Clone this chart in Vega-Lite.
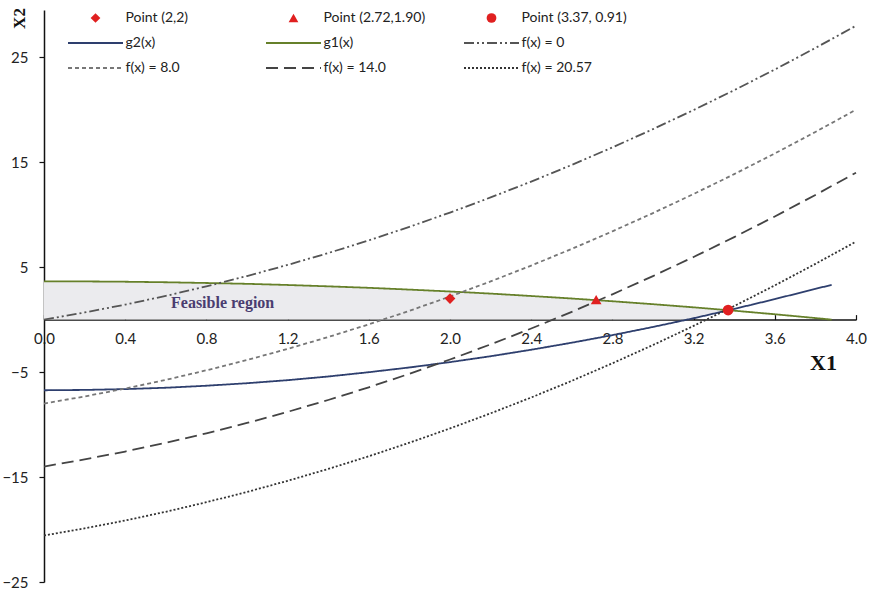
{
  "$schema": "https://vega.github.io/schema/vega-lite/v6.json",
  "width": 812,
  "height": 572,
  "autosize": "none",
  "padding": {"left": 44, "top": 10, "right": 15, "bottom": 11},
  "background": "white",
  "config": {
    "view": {"stroke": null},
    "legend": {
      "labelFont": "Lato",
      "labelFontSize": 14,
      "labelColor": "#222",
      "columns": 3,
      "columnPadding": 31,
      "rowPadding": 11,
      "gridAlign": "all",
      "labelOffset": 23,
      "symbolOffset": 20.5,
      "padding": 0,
      "labelLimit": 300,
      "symbolStrokeWidth": 2
    }
  },
  "datasets": {
    "region": [
      {"x": 0, "y": 3.65, "lo": 0}, {"x": 0.2, "y": 3.64, "lo": 0}, {"x": 0.4, "y": 3.61, "lo": 0},
      {"x": 0.6, "y": 3.56, "lo": 0}, {"x": 0.8, "y": 3.49, "lo": 0}, {"x": 1.0, "y": 3.41, "lo": 0},
      {"x": 1.2, "y": 3.3, "lo": 0}, {"x": 1.4, "y": 3.17, "lo": 0}, {"x": 1.6, "y": 3.03, "lo": 0},
      {"x": 1.8, "y": 2.86, "lo": 0}, {"x": 2.0, "y": 2.68, "lo": 0}, {"x": 2.2, "y": 2.48, "lo": 0},
      {"x": 2.4, "y": 2.25, "lo": 0}, {"x": 2.6, "y": 2.01, "lo": 0}, {"x": 2.8, "y": 1.75, "lo": 0},
      {"x": 3.0, "y": 1.47, "lo": 0}, {"x": 3.1, "y": 1.32, "lo": 0}, {"x": 3.17, "y": 1.21, "lo": 0},
      {"x": 3.2, "y": 1.17, "lo": 0.13}, {"x": 3.25, "y": 1.09, "lo": 0.35}, {"x": 3.3, "y": 1.01, "lo": 0.57},
      {"x": 3.37, "y": 0.9, "lo": 0.9}
    ],
    "curves": [
      {"series": "g2(x)", "x": 0, "y": -6.73}, {"series": "g2(x)", "x": 0.2, "y": -6.7}, {"series": "g2(x)", "x": 0.4, "y": -6.62},
      {"series": "g2(x)", "x": 0.6, "y": -6.49}, {"series": "g2(x)", "x": 0.8, "y": -6.3}, {"series": "g2(x)", "x": 1.0, "y": -6.06},
      {"series": "g2(x)", "x": 1.2, "y": -5.77}, {"series": "g2(x)", "x": 1.4, "y": -5.42}, {"series": "g2(x)", "x": 1.6, "y": -5.01},
      {"series": "g2(x)", "x": 1.8, "y": -4.56}, {"series": "g2(x)", "x": 2.0, "y": -4.05}, {"series": "g2(x)", "x": 2.2, "y": -3.49},
      {"series": "g2(x)", "x": 2.4, "y": -2.87}, {"series": "g2(x)", "x": 2.6, "y": -2.2}, {"series": "g2(x)", "x": 2.8, "y": -1.48},
      {"series": "g2(x)", "x": 3.0, "y": -0.7}, {"series": "g2(x)", "x": 3.2, "y": 0.13}, {"series": "g2(x)", "x": 3.4, "y": 1.02},
      {"series": "g2(x)", "x": 3.6, "y": 1.95}, {"series": "g2(x)", "x": 3.8, "y": 2.94}, {"series": "g2(x)", "x": 3.88, "y": 3.3},
      {"series": "g1(x)", "x": 0, "y": 3.65}, {"series": "g1(x)", "x": 0.2, "y": 3.64}, {"series": "g1(x)", "x": 0.4, "y": 3.61},
      {"series": "g1(x)", "x": 0.6, "y": 3.56}, {"series": "g1(x)", "x": 0.8, "y": 3.49}, {"series": "g1(x)", "x": 1.0, "y": 3.41},
      {"series": "g1(x)", "x": 1.2, "y": 3.3}, {"series": "g1(x)", "x": 1.4, "y": 3.17}, {"series": "g1(x)", "x": 1.6, "y": 3.03},
      {"series": "g1(x)", "x": 1.8, "y": 2.86}, {"series": "g1(x)", "x": 2.0, "y": 2.68}, {"series": "g1(x)", "x": 2.2, "y": 2.48},
      {"series": "g1(x)", "x": 2.4, "y": 2.25}, {"series": "g1(x)", "x": 2.6, "y": 2.01}, {"series": "g1(x)", "x": 2.8, "y": 1.75},
      {"series": "g1(x)", "x": 3.0, "y": 1.47}, {"series": "g1(x)", "x": 3.2, "y": 1.17}, {"series": "g1(x)", "x": 3.4, "y": 0.85},
      {"series": "g1(x)", "x": 3.6, "y": 0.51}, {"series": "g1(x)", "x": 3.8, "y": 0.15}, {"series": "g1(x)", "x": 3.88, "y": 0},
      {"series": "f(x) = 0", "x": 0, "y": 0}, {"series": "f(x) = 0", "x": 0.2, "y": 0.68}, {"series": "f(x) = 0", "x": 0.4, "y": 1.43},
      {"series": "f(x) = 0", "x": 0.6, "y": 2.26}, {"series": "f(x) = 0", "x": 0.8, "y": 3.17}, {"series": "f(x) = 0", "x": 1.0, "y": 4.15},
      {"series": "f(x) = 0", "x": 1.2, "y": 5.21}, {"series": "f(x) = 0", "x": 1.4, "y": 6.34}, {"series": "f(x) = 0", "x": 1.6, "y": 7.55},
      {"series": "f(x) = 0", "x": 1.8, "y": 8.84}, {"series": "f(x) = 0", "x": 2.0, "y": 10.2}, {"series": "f(x) = 0", "x": 2.2, "y": 11.64},
      {"series": "f(x) = 0", "x": 2.4, "y": 13.15}, {"series": "f(x) = 0", "x": 2.6, "y": 14.74}, {"series": "f(x) = 0", "x": 2.8, "y": 16.41},
      {"series": "f(x) = 0", "x": 3.0, "y": 18.15}, {"series": "f(x) = 0", "x": 3.2, "y": 19.97}, {"series": "f(x) = 0", "x": 3.4, "y": 21.86},
      {"series": "f(x) = 0", "x": 3.6, "y": 23.83}, {"series": "f(x) = 0", "x": 3.8, "y": 25.88}, {"series": "f(x) = 0", "x": 4.0, "y": 28.0},
      {"series": "f(x) = 8.0", "x": 0, "y": -8}, {"series": "f(x) = 8.0", "x": 0.2, "y": -7.32}, {"series": "f(x) = 8.0", "x": 0.4, "y": -6.57},
      {"series": "f(x) = 8.0", "x": 0.6, "y": -5.74}, {"series": "f(x) = 8.0", "x": 0.8, "y": -4.83}, {"series": "f(x) = 8.0", "x": 1.0, "y": -3.85},
      {"series": "f(x) = 8.0", "x": 1.2, "y": -2.79}, {"series": "f(x) = 8.0", "x": 1.4, "y": -1.66}, {"series": "f(x) = 8.0", "x": 1.6, "y": -0.45},
      {"series": "f(x) = 8.0", "x": 1.8, "y": 0.84}, {"series": "f(x) = 8.0", "x": 2.0, "y": 2.2}, {"series": "f(x) = 8.0", "x": 2.2, "y": 3.64},
      {"series": "f(x) = 8.0", "x": 2.4, "y": 5.15}, {"series": "f(x) = 8.0", "x": 2.6, "y": 6.74}, {"series": "f(x) = 8.0", "x": 2.8, "y": 8.41},
      {"series": "f(x) = 8.0", "x": 3.0, "y": 10.15}, {"series": "f(x) = 8.0", "x": 3.2, "y": 11.97}, {"series": "f(x) = 8.0", "x": 3.4, "y": 13.86},
      {"series": "f(x) = 8.0", "x": 3.6, "y": 15.83}, {"series": "f(x) = 8.0", "x": 3.8, "y": 17.88}, {"series": "f(x) = 8.0", "x": 4.0, "y": 20.0},
      {"series": "f(x) = 14.0", "x": 0, "y": -14}, {"series": "f(x) = 14.0", "x": 0.2, "y": -13.32}, {"series": "f(x) = 14.0", "x": 0.4, "y": -12.57},
      {"series": "f(x) = 14.0", "x": 0.6, "y": -11.74}, {"series": "f(x) = 14.0", "x": 0.8, "y": -10.83}, {"series": "f(x) = 14.0", "x": 1.0, "y": -9.85},
      {"series": "f(x) = 14.0", "x": 1.2, "y": -8.79}, {"series": "f(x) = 14.0", "x": 1.4, "y": -7.66}, {"series": "f(x) = 14.0", "x": 1.6, "y": -6.45},
      {"series": "f(x) = 14.0", "x": 1.8, "y": -5.16}, {"series": "f(x) = 14.0", "x": 2.0, "y": -3.8}, {"series": "f(x) = 14.0", "x": 2.2, "y": -2.36},
      {"series": "f(x) = 14.0", "x": 2.4, "y": -0.85}, {"series": "f(x) = 14.0", "x": 2.6, "y": 0.74}, {"series": "f(x) = 14.0", "x": 2.8, "y": 2.41},
      {"series": "f(x) = 14.0", "x": 3.0, "y": 4.15}, {"series": "f(x) = 14.0", "x": 3.2, "y": 5.97}, {"series": "f(x) = 14.0", "x": 3.4, "y": 7.86},
      {"series": "f(x) = 14.0", "x": 3.6, "y": 9.83}, {"series": "f(x) = 14.0", "x": 3.8, "y": 11.88}, {"series": "f(x) = 14.0", "x": 4.0, "y": 14.0},
      {"series": "f(x) = 20.57", "x": 0, "y": -20.57}, {"series": "f(x) = 20.57", "x": 0.2, "y": -19.89}, {"series": "f(x) = 20.57", "x": 0.4, "y": -19.14},
      {"series": "f(x) = 20.57", "x": 0.6, "y": -18.31}, {"series": "f(x) = 20.57", "x": 0.8, "y": -17.4}, {"series": "f(x) = 20.57", "x": 1.0, "y": -16.42},
      {"series": "f(x) = 20.57", "x": 1.2, "y": -15.36}, {"series": "f(x) = 20.57", "x": 1.4, "y": -14.23}, {"series": "f(x) = 20.57", "x": 1.6, "y": -13.02},
      {"series": "f(x) = 20.57", "x": 1.8, "y": -11.73}, {"series": "f(x) = 20.57", "x": 2.0, "y": -10.37}, {"series": "f(x) = 20.57", "x": 2.2, "y": -8.93},
      {"series": "f(x) = 20.57", "x": 2.4, "y": -7.42}, {"series": "f(x) = 20.57", "x": 2.6, "y": -5.83}, {"series": "f(x) = 20.57", "x": 2.8, "y": -4.16},
      {"series": "f(x) = 20.57", "x": 3.0, "y": -2.42}, {"series": "f(x) = 20.57", "x": 3.2, "y": -0.6}, {"series": "f(x) = 20.57", "x": 3.4, "y": 1.29},
      {"series": "f(x) = 20.57", "x": 3.6, "y": 3.26}, {"series": "f(x) = 20.57", "x": 3.8, "y": 5.31}, {"series": "f(x) = 20.57", "x": 4.0, "y": 7.43}
    ],
    "points": [
      {"series": "Point (2,2)", "x": 2, "y": 2},
      {"series": "Point (2.72,1.90)", "x": 2.72, "y": 1.9},
      {"series": "Point (3.37, 0.91)", "x": 3.37, "y": 0.91}
    ],
    "labels": [
      {"x": 0.88, "y": 1.55, "label": "Feasible region"}
    ]
  },
  "encoding": {
    "x": {
      "field": "x", "type": "quantitative",
      "scale": {"domain": [0, 4], "nice": false, "zero": false},
      "axis": {
        "title": "X1",
        "values": [0, 0.4, 0.8, 1.2, 1.6, 2.0, 2.4, 2.8, 3.2, 3.6, 4.0],
        "format": ".1f",
        "offset": -262.39,
        "grid": false,
        "domainColor": "#111", "domainWidth": 1.5,
        "tickColor": "#111", "tickWidth": 1.2, "tickSize": -5,
        "labelFont": "Lato", "labelFontSize": 15, "labelColor": "#222", "labelPadding": 17,
        "labelFlush": false, "labelOverlap": false,
        "titleFont": "Liberation Serif", "titleFontWeight": "bold", "titleFontSize": 22, "titleColor": "#111",
        "titleX": 779, "titleY": 43, "titleAlign": "center", "titleBaseline": "middle", "titleAnchor": null
      }
    },
    "y": {
      "field": "y", "type": "quantitative",
      "scale": {"domain": [-25, 29.5], "nice": false, "zero": false},
      "axis": {
        "title": "X2",
        "values": [-25, -15, -5, 5, 15, 25],
        "grid": false,
        "domainColor": "#111", "domainWidth": 1.5,
        "tickColor": "#111", "tickWidth": 1.2, "tickSize": 5,
        "labelFont": "Lato", "labelFontSize": 15, "labelColor": "#222", "labelPadding": 11,
        "labelFlush": false, "labelOverlap": false,
        "titleFont": "Liberation Serif", "titleFontWeight": "bold", "titleFontSize": 17, "titleColor": "#111",
        "titleX": -25, "titleY": 8, "titleAngle": -90, "titleAlign": "center", "titleBaseline": "middle", "titleAnchor": null
      }
    }
  },
  "layer": [
    {
      "data": {"name": "region"},
      "mark": {"type": "area", "fill": "#ebebee", "opacity": 1},
      "encoding": {"y2": {"field": "lo"}}
    },
    {
      "data": {"name": "labels"},
      "mark": {"type": "text", "font": "Liberation Serif", "fontWeight": "bold", "fontSize": 16, "color": "#4a3d70"},
      "encoding": {"text": {"field": "label"}}
    },
    {
      "data": {"name": "curves"},
      "mark": {"type": "line", "strokeWidth": 1.8},
      "encoding": {
        "color": {
          "field": "series", "type": "nominal",
          "scale": {
            "domain": ["Point (2,2)", "Point (2.72,1.90)", "Point (3.37, 0.91)", "g2(x)", "g1(x)", "f(x) = 0", "f(x) = 8.0", "f(x) = 14.0", "f(x) = 20.57"],
            "range": ["#e02020", "#e02020", "#e02020", "#2e3f6e", "#66802a", "#555555", "#777777", "#444444", "#333333"]
          },
          "legend": {
            "title": null, "orient": "none", "legendX": 24, "legendY": 1, "direction": "horizontal", "columns": 3,
            "encode": {"symbols": {"update": {
              "fill": {"signal": "indexof(['Point (2,2)','Point (2.72,1.90)','Point (3.37, 0.91)'], datum.value) >= 0 ? '#e02020' : 'transparent'"},
              "size": {"signal": "indexof(['Point (2,2)','Point (2.72,1.90)','Point (3.37, 0.91)'], datum.value) >= 0 ? 95 : 3025"},
              "strokeWidth": {"signal": "indexof(['Point (2,2)','Point (2.72,1.90)','Point (3.37, 0.91)'], datum.value) >= 0 ? 0 : 2"},
              "opacity": {"value": 1}
            }}}
          }
        },
        "strokeDash": {
          "field": "series", "type": "nominal",
          "scale": {
            "domain": ["Point (2,2)", "Point (2.72,1.90)", "Point (3.37, 0.91)", "g2(x)", "g1(x)", "f(x) = 0", "f(x) = 8.0", "f(x) = 14.0", "f(x) = 20.57"],
            "range": [[1, 0], [1, 0], [1, 0], [1, 0], [1, 0], [10, 3, 2, 3, 2, 3], [4, 3], [12, 6], [2, 2]]
          },
          "legend": {
            "title": null, "orient": "none", "legendX": 24, "legendY": 1, "direction": "horizontal", "columns": 3,
            "encode": {"symbols": {"update": {
              "fill": {"signal": "indexof(['Point (2,2)','Point (2.72,1.90)','Point (3.37, 0.91)'], datum.value) >= 0 ? '#e02020' : 'transparent'"},
              "size": {"signal": "indexof(['Point (2,2)','Point (2.72,1.90)','Point (3.37, 0.91)'], datum.value) >= 0 ? 95 : 3025"},
              "strokeWidth": {"signal": "indexof(['Point (2,2)','Point (2.72,1.90)','Point (3.37, 0.91)'], datum.value) >= 0 ? 0 : 2"},
              "opacity": {"value": 1}
            }}}
          }
        }
      }
    },
    {
      "data": {"name": "points"},
      "mark": {"type": "point", "filled": true, "size": 115, "opacity": 1},
      "encoding": {
        "color": {
          "field": "series", "type": "nominal",
          "legend": {
            "title": null, "orient": "none", "legendX": 24, "legendY": 1, "direction": "horizontal", "columns": 3,
            "encode": {"symbols": {"update": {
              "fill": {"signal": "indexof(['Point (2,2)','Point (2.72,1.90)','Point (3.37, 0.91)'], datum.value) >= 0 ? '#e02020' : 'transparent'"},
              "size": {"signal": "indexof(['Point (2,2)','Point (2.72,1.90)','Point (3.37, 0.91)'], datum.value) >= 0 ? 95 : 3025"},
              "strokeWidth": {"signal": "indexof(['Point (2,2)','Point (2.72,1.90)','Point (3.37, 0.91)'], datum.value) >= 0 ? 0 : 2"},
              "opacity": {"value": 1}
            }}}
          }
        },
        "shape": {
          "field": "series", "type": "nominal",
          "scale": {
            "domain": ["Point (2,2)", "Point (2.72,1.90)", "Point (3.37, 0.91)", "g2(x)", "g1(x)", "f(x) = 0", "f(x) = 8.0", "f(x) = 14.0", "f(x) = 20.57"],
            "range": ["diamond", "triangle-up", "circle", "stroke", "stroke", "stroke", "stroke", "stroke", "stroke"]
          },
          "legend": {
            "title": null, "orient": "none", "legendX": 24, "legendY": 1, "direction": "horizontal", "columns": 3,
            "encode": {"symbols": {"update": {
              "fill": {"signal": "indexof(['Point (2,2)','Point (2.72,1.90)','Point (3.37, 0.91)'], datum.value) >= 0 ? '#e02020' : 'transparent'"},
              "size": {"signal": "indexof(['Point (2,2)','Point (2.72,1.90)','Point (3.37, 0.91)'], datum.value) >= 0 ? 95 : 3025"},
              "strokeWidth": {"signal": "indexof(['Point (2,2)','Point (2.72,1.90)','Point (3.37, 0.91)'], datum.value) >= 0 ? 0 : 2"},
              "opacity": {"value": 1}
            }}}
          }
        }
      }
    },
    {
      "mark": {"type": "point", "shape": "triangle-up", "filled": true, "size": 45, "color": "#111", "opacity": 1},
      "encoding": {"x": {"datum": 0, "type": "quantitative"}, "y": {"datum": 29.5, "type": "quantitative"}}
    },
    {
      "mark": {"type": "point", "shape": "triangle-right", "filled": true, "size": 45, "color": "#111", "opacity": 1},
      "encoding": {"x": {"datum": 4.0, "type": "quantitative"}, "y": {"datum": 0, "type": "quantitative"}}
    }
  ]
}
